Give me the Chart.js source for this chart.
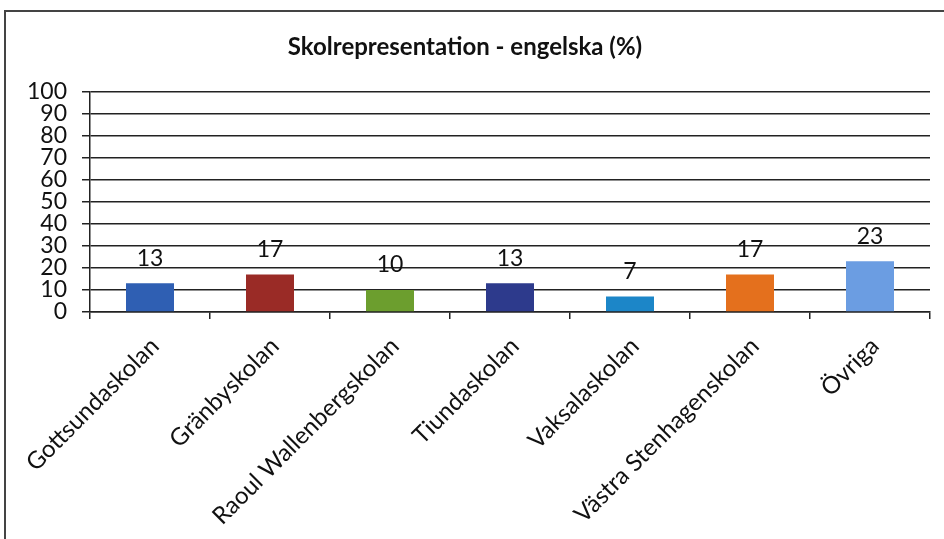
<!DOCTYPE html>
<html>
<head>
<meta charset="utf-8">
<script src="https://cdn.jsdelivr.net/npm/chart.js@4"></script>
<style>
  html, body { margin: 0; padding: 0; background: #fff; }
  #wrap { position: relative; width: 944px; height: 539px; overflow: hidden; }
  #frame { position: absolute; left: 4px; top: 10px; width: 960px; height: 560px; border: 2px solid #444; box-sizing: border-box; }
  canvas { position: absolute; left: 0; top: 0; }
</style>
</head>
<body>
<div id="wrap">
  <div id="frame"></div>
  <canvas id="chart" width="944" height="539"></canvas>
</div>
<script>
// Data
const schools = ['Gottsundaskolan', 'Gränbyskolan', 'Raoul Wallenbergskolan', 'Tiundaskolan', 'Vaksalaskolan', 'Västra Stenhagenskolan', 'Övriga'];
const percent = [13, 17, 10, 13, 7, 17, 23];
const barColours = ['#2f5fb3', '#9a2b26', '#6c9e2e', '#2d3a8c', '#1c86c8', '#e4701d', '#6b9de2'];
const yTicks = [0, 10, 20, 30, 40, 50, 60, 70, 80, 90, 100];

const fontFamily = 'Lato, "Open Sans", sans-serif';

// Values written above each bar
const valueLabels = {
    id: 'valueLabels',
    afterDatasetsDraw(chart) {
        const ctx = chart.ctx;
        const meta = chart.getDatasetMeta(0);
        ctx.save();
        ctx.font = '23px ' + fontFamily;
        ctx.fillStyle = '#111';
        ctx.textAlign = 'center';
        ctx.textBaseline = 'middle';
        meta.data.forEach((bar, i) => {
            ctx.fillText(percent[i], bar.x, bar.y - 25);
        });
        ctx.restore();
    }
};

new Chart(document.getElementById('chart'), {
    type: 'bar',
    data: {
        labels: schools,
        datasets: [{
            label: 'engelska',
            data: percent,
            backgroundColor: barColours,
            borderColor: barColours,
            borderWidth: 0,
            barPercentage: 0.4,
            categoryPercentage: 1
        }]
    },
    options: {
        responsive: false,
        animation: false,
        layout: { padding: { left: 0, right: 14, top: 0, bottom: 0 } },
        plugins: {
            legend: { display: false },
            tooltip: { enabled: false },
            title: {
                display: true,
                text: 'Skolrepresentation - engelska (%)',
                color: '#111',
                font: { family: fontFamily, size: 24, weight: 'bold' },
                padding: { top: 33, bottom: 30 }
            }
        },
        scales: {
            y: {
                min: 0,
                max: 100,
                afterFit: scale => { scale.width = 90; },
                afterBuildTicks: scale => { scale.ticks = yTicks.map(v => ({ value: v })); },
                ticks: {
                    autoSkip: false,
                    color: '#111',
                    padding: 15,
                    font: { family: fontFamily, size: 23, lineHeight: 1 }
                },
                grid: { color: '#222', lineWidth: 1.5, tickLength: 8 },
                border: { color: '#222', width: 1.5 }
            },
            x: {
                afterFit: scale => { scale.height = 227; },
                ticks: {
                    autoSkip: false,
                    color: '#111',
                    minRotation: 45,
                    maxRotation: 45,
                    padding: 13,
                    labelOffset: 5,
                    font: { family: fontFamily, size: 24 }
                },
                grid: { offset: true, drawOnChartArea: false, color: '#222', lineWidth: 1.5, tickLength: 7 },
                border: { color: '#222', width: 1.5 }
            }
        }
    },
    plugins: [valueLabels]
});
</script>
</body>
</html>
